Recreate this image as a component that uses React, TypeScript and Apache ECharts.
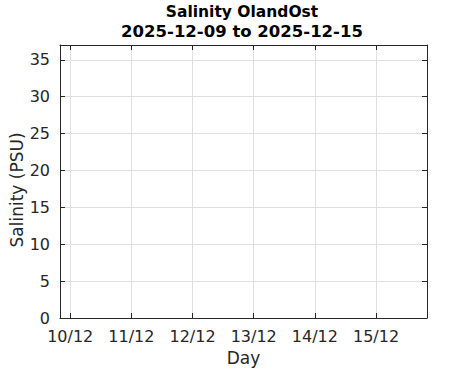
import React, { useEffect, useRef } from "react";
import * as echarts from "echarts";

// ---- data ----
const titleLines = ["Salinity OlandOst", "2025-12-09 to 2025-12-15"];
const xAxisTitle = "Day";
const yAxisTitle = "Salinity (PSU)";
const xRange = ["2025-12-09T20:00:00Z", "2025-12-15T20:00:00Z"];
const xTickDays = ["2025-12-10", "2025-12-11", "2025-12-12", "2025-12-13", "2025-12-14", "2025-12-15"];
const yRange = [0, 37];
const yTicks = [0, 5, 10, 15, 20, 25, 30, 35];
// the period contains no measurements
const sampleTimes: string[] = [];
const salinityValues: number[] = [];

const FONT = "DejaVu Sans";
const AXIS_COLOR = "#262626";
const GRID_COLOR = "#dfdfdf";

export default function App() {
  const ref = useRef<HTMLDivElement>(null);

  useEffect(() => {
    if (!ref.current) return;
    const chart = echarts.init(ref.current, null, { renderer: "svg" });
    const xMin = Date.parse(xRange[0]);
    const xMax = Date.parse(xRange[1]);
    const xTicks = xTickDays.map((d) => Date.parse(d + "T00:00:00Z"));
    const fmt = (v: number) => {
      const d = new Date(v);
      return `${d.getUTCDate()}/${d.getUTCMonth() + 1}`;
    };
    const grid = { left: 60, right: 44, top: 45, bottom: 53 };

    const baseX = {
      type: "value" as const,
      min: xMin,
      max: xMax,
      axisLine: { show: true, onZero: false, lineStyle: { color: AXIS_COLOR, width: 1 } },
      axisTick: { show: true, inside: true, length: 5, customValues: xTicks, lineStyle: { color: AXIS_COLOR } },
    };
    const baseY = {
      type: "value" as const,
      min: yRange[0],
      max: yRange[1],
      interval: 5,
      axisLine: { show: true, onZero: false, lineStyle: { color: AXIS_COLOR, width: 1 } },
      axisTick: { show: true, inside: true, length: 5, customValues: yTicks, lineStyle: { color: AXIS_COLOR } },
    };

    chart.setOption({
      animation: false,
      backgroundColor: "#ffffff",
      grid,
      xAxis: [
        {
          ...baseX,
          position: "bottom",
          axisLabel: {
            show: true,
            customValues: xTicks,
            formatter: fmt,
            margin: 10,
            color: AXIS_COLOR,
            fontFamily: FONT,
            fontSize: 16,
          },
          splitLine: { show: true, lineStyle: { color: GRID_COLOR, width: 1 } },
        },
        {
          ...baseX,
          position: "top",
          axisLabel: { show: false },
          splitLine: { show: false },
        },
      ],
      yAxis: [
        {
          ...baseY,
          position: "left",
          axisLabel: {
            show: true,
            customValues: yTicks,
            margin: 10,
            color: AXIS_COLOR,
            fontFamily: FONT,
            fontSize: 16,
          },
          splitLine: { show: true, lineStyle: { color: GRID_COLOR, width: 1 } },
        },
        {
          ...baseY,
          position: "right",
          axisLabel: { show: false },
          splitLine: { show: false },
        },
      ],
      series: [
        {
          type: "line",
          xAxisIndex: 0,
          yAxisIndex: 0,
          data: sampleTimes.map((t, i) => [Date.parse(t), salinityValues[i]]),
          showSymbol: false,
          lineStyle: { color: "#0072bd", width: 1.5 },
        },
      ],
      graphic: [
        {
          type: "text",
          x: 242,
          y: 12,
          style: {
            text: titleLines[0],
            fill: "#000000",
            font: `bold 15.5px "${FONT}"`,
            textAlign: "center",
            textVerticalAlign: "middle",
          },
        },
        {
          type: "text",
          x: 242,
          y: 31,
          style: {
            text: titleLines[1],
            fill: "#000000",
            font: `bold 16.5px "${FONT}"`,
            textAlign: "center",
            textVerticalAlign: "middle",
          },
        },
        {
          type: "text",
          x: 243.5,
          y: 358,
          style: {
            text: xAxisTitle,
            fill: AXIS_COLOR,
            font: `17px "${FONT}"`,
            textAlign: "center",
            textVerticalAlign: "middle",
          },
        },
        {
          type: "text",
          x: 16.5,
          y: 190,
          rotation: Math.PI / 2,
          style: {
            text: yAxisTitle,
            fill: AXIS_COLOR,
            font: `17px "${FONT}"`,
            textAlign: "center",
            textVerticalAlign: "middle",
          },
        },
      ],
    });

    return () => chart.dispose();
  }, []);

  return (
    <div
      ref={ref}
      style={{ position: "fixed", left: 0, top: 0, width: 471, height: 371, background: "#fff" }}
    />
  );
}
